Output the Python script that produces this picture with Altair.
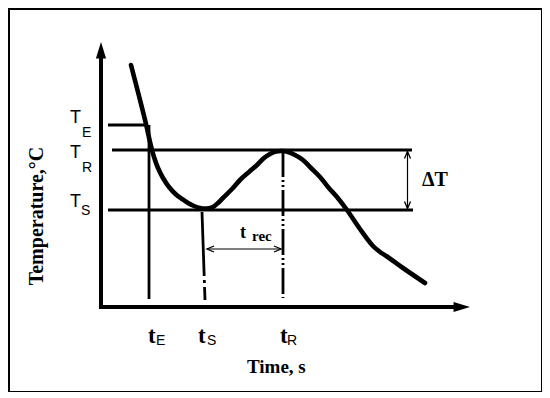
import altair as alt
import pandas as pd

# ---- data (axis origin = 0, arbitrary units) ----
curve_time = [30, 38, 45, 49.5, 53, 57, 62, 68, 75, 81, 87, 93, 99, 106, 112, 117, 122,
              131, 139, 148, 156, 163, 169, 175, 181, 187, 194, 202, 210, 219, 227, 236,
              246, 259, 272, 279, 286, 302, 324]
curve_temp = [242, 211, 183, 163, 150, 139, 129, 120, 112.5, 108, 104, 101, 99, 98.5, 100,
              104, 109, 118, 127, 135, 142, 149, 153, 155.5, 156, 155, 152, 147, 139, 130,
              120, 110, 97, 78, 61, 55, 50.5, 39, 24]

level_names = ["T_E", "T_R", "T_S"]
level_temp = [182, 157, 97]
level_start = [7, 11, 7]
level_end = [46, 311, 312]

time_names = ["t_E", "t_S", "t_R"]
time_top = [182, 95, 156]
time_bottom = [8, 7, 9]
t_E_x = 48
t_S_x = [101, 104]
t_R_x = 182

x_axis_end = 369
y_axis_end = 265

dT_x = 306.5
dT_range = [155.5, 98.5]
trec_y = 58
trec_range = [106, 180]

xs = alt.Scale(domain=[-92, 441], nice=False, zero=False)
ys = alt.Scale(domain=[-85, 298], nice=False, zero=False)
X = lambda f="x": alt.X(f"{f}:Q", scale=xs, axis=None)
Y = lambda f="y": alt.Y(f"{f}:Q", scale=ys, axis=None)

# curve
curve_df = pd.DataFrame({"x": curve_time, "y": curve_temp})
curve = alt.Chart(curve_df).mark_line(
    color="black", strokeWidth=4.6, interpolate="catmull-rom", strokeCap="round"
).encode(x=X(), y=Y())

# axes lines
axes_df = pd.DataFrame({
    "id": ["y", "y", "x", "x"],
    "x": [0, 0, -2, x_axis_end - 14],
    "y": [-2, y_axis_end - 14, 0, 0],
})
axes = alt.Chart(axes_df).mark_line(color="black", strokeWidth=4).encode(
    x=X(), y=Y(), detail="id:N", order="y:Q")

heads_df = pd.DataFrame({"x": [0, x_axis_end], "y": [y_axis_end, 0], "a": [0, 90]})
heads = alt.Chart(heads_df).mark_point(
    shape="M0,0L0.62,2L-0.62,2Z", filled=True, color="black", opacity=1, size=270,
    strokeWidth=0
).encode(x=X(), y=Y(), angle=alt.Angle("a:Q", scale=None))

# level lines
lev_df = pd.DataFrame({"name": level_names, "y": level_temp, "x": level_start, "x2": level_end})
levels = alt.Chart(lev_df).mark_rule(color="black", strokeWidth=3).encode(
    x=X(), x2=alt.X2("x2:Q"), y=Y())

# vertical time marks
tE = alt.Chart(pd.DataFrame({"x": [t_E_x], "y": [time_top[0]], "y2": [time_bottom[0]]})).mark_rule(
    color="black", strokeWidth=2.8).encode(x=X(), y=Y(), y2=alt.Y2("y2:Q"))
tS = alt.Chart(pd.DataFrame({"x": t_S_x, "y": [time_top[1], time_bottom[1]]})).mark_line(
    color="black", strokeWidth=2.8, strokeDash=[64, 4, 3, 4, 13]).encode(
    x=X(), y=Y(), order=alt.Order("y:Q", sort="descending"))
tR = alt.Chart(pd.DataFrame({"x": [t_R_x], "y": [time_top[2]], "y2": [time_bottom[2]]})).mark_rule(
    color="black", strokeWidth=2.8, strokeDash=[26, 3, 2, 3, 2, 3]).encode(x=X(), y=Y(), y2=alt.Y2("y2:Q"))

# thin double arrows
thin_df = pd.DataFrame({
    "x": [dT_x, trec_range[0]], "x2": [dT_x, trec_range[1]],
    "y": [dT_range[0], trec_y], "y2": [dT_range[1], trec_y]})
thin = alt.Chart(thin_df).mark_rule(color="black", strokeWidth=1.2).encode(
    x=X(), x2=alt.X2("x2:Q"), y=Y(), y2=alt.Y2("y2:Q"))
chev_df = pd.DataFrame({
    "x": [dT_x, dT_x, trec_range[0], trec_range[1]],
    "y": [dT_range[0], dT_range[1], trec_y, trec_y],
    "a": [0, 180, 270, 90]})
chev = alt.Chart(chev_df).mark_point(
    shape="M-0.86,2L0,0L0.86,2", filled=False, color="black", opacity=1, size=49,
    strokeWidth=1.3
).encode(x=X(), y=Y(), angle=alt.Angle("a:Q", scale=None))

# labels
sans_df = pd.DataFrame({
    "t": ["T", "E", "T", "R", "T", "S", "E", "S", "R"],
    "x": [-31, -19, -31, -19, -31, -20, 55, 106, 186],
    "y": [184, 170, 149.5, 135, 100, 92, -38, -38, -38],
    "s": [18, 14, 18, 14, 18, 14, 14, 14, 14]})
sans = alt.Chart(sans_df).mark_text(
    font="Liberation Sans", align="left", baseline="alphabetic", color="black"
).encode(x=X(), y=Y(), text="t:N", size=alt.Size("s:Q", scale=None))

serif_df = pd.DataFrame({
    "t": ["t", "t", "t", "Time, s", "t", "rec", "ΔT"],
    "x": [47, 97, 179, 146, 139, 151, 321],
    "y": [-36, -36, -36, -66, 69, 66, 121],
    "s": [23, 23, 23, 19, 18, 15, 20]})
serif = alt.Chart(serif_df).mark_text(
    font="Liberation Serif", fontWeight="bold", align="left", baseline="alphabetic", color="black"
).encode(x=X(), y=Y(), text="t:N", size=alt.Size("s:Q", scale=None))

ytitle = alt.Chart(pd.DataFrame({"t": ["Temperature,°C"], "x": [-64], "y": [91]})).mark_text(
    font="Liberation Serif", fontWeight="bold", fontSize=20, angle=270,
    align="center", baseline="middle", color="black"
).encode(x=X(), y=Y(), text="t:N")

chart = alt.layer(levels, tE, tS, tR, thin, chev, axes, heads, curve, sans, serif, ytitle).properties(
    width=533, height=383,
    autosize=alt.AutoSizeParams(type="none"),
    padding={"left": 1, "top": 1, "right": 0, "bottom": 0},
    background="white",
).configure_view(stroke="black", strokeWidth=2)

chart.save("out.html", embed_options={"renderer": "svg", "actions": False})
